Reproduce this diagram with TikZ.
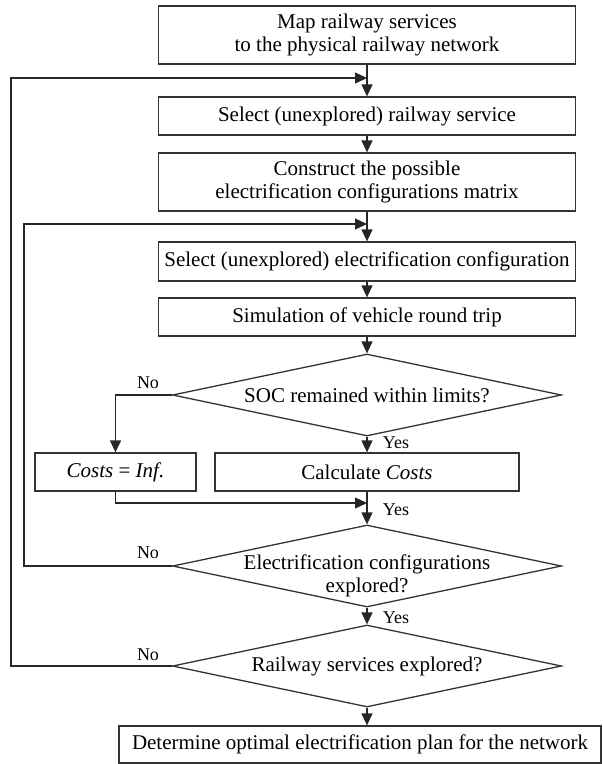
\documentclass[tikz,border=0pt]{standalone}
\usepackage{fontspec}
\setmainfont{Liberation Serif}
\usetikzlibrary{arrows.meta,shapes.geometric,positioning}

\begin{document}
\begin{tikzpicture}[
    x=1pt, y=-1pt,
    font=\fontsize{21}{23}\selectfont,
    >={Triangle[length=12pt,width=11pt]},
    every node/.style={align=center},
    proc/.style={draw=black!80, line width=1.3pt, fill=white,
      minimum width=417pt, minimum height=38pt, inner sep=2pt},
    dec/.style={draw=black!80, line width=1.3pt, diamond, inner sep=0pt,
      minimum width=389pt, minimum height=82pt},
    lbl/.style={font=\fontsize{18}{20}\selectfont},
    arr/.style={->, line width=1.3pt, draw=black!85},
  ]
    \useasboundingbox (0,0) rectangle (603,764);

    % --- process steps ---
    \node[proc, minimum height=58pt] (map) at (367,35) {Map railway services\\to the physical railway network};
    \node[proc] (sel) at (367,116) {Select (unexplored) railway service};
    \node[proc, minimum height=58pt] (cons) at (367,182) {Construct the possible\\electrification configurations matrix};
    \node[proc, minimum height=39pt] (selc) at (367,261.5) {Select (unexplored) electrification configuration};
    \node[proc] (sim) at (367,317) {Simulation of vehicle round trip};

    % --- decisions ---
    \node[dec, label={[name=soct]center:SOC remained within limits?}] (soc) at (367,395) {};
    \node[proc, minimum width=161pt] (inf) at (115.5,472) {\textit{Costs} = \textit{Inf.}};
    \node[proc, minimum width=304pt] (calc) at (367,472) {Calculate \textit{Costs}};
    \node[dec, label={[name=expct, yshift=-10pt]center:Electrification configurations\\explored?}] (expc) at (367,566) {};
    \node[dec, label={[name=expst]center:Railway services explored?}] (exps) at (367,666) {};

    % --- result ---
    \node[proc, minimum width=482pt, minimum height=37pt] (plan) at (360,744.5) {Determine optimal electrification plan for the network};

    % --- junctions ---
    \coordinate (j1) at (367,78);
    \coordinate (j2) at (367,224);
    \coordinate (j3) at (367,503);

    % --- main chain ---
    \draw[arr] (map) -- (sel);
    \draw[arr] (sel) -- (cons);
    \draw[arr] (cons) -- (selc);
    \draw[arr] (selc) -- (sim);
    \draw[arr] (sim) -- (soc);
    \draw[arr] (soc) -- (calc);
    \draw[arr] (soc.west) -| (inf.north);
    \draw[arr] (inf.south) |- (j3);
    \draw[arr] (calc) -- (expc);
    \draw[arr] (expc) -- (exps);
    \draw[arr] (exps.south) -- (exps.south |- plan.north);

    % --- loops back ---
    \draw[arr] (expc.west) -- ++(-148,0) |- (j2);
    \draw[arr] (exps.west) -- ++(-161,0) |- (j1);

    % --- branch labels ---
    \node[lbl] (no1) at (148,383) {No};
    \node[lbl] (yes1) at (396,443) {Yes};
    \node[lbl] (yes2) at (396,510) {Yes};
    \node[lbl] (no2) at (148,553) {No};
    \node[lbl] (yes3) at (396,618) {Yes};
    \node[lbl] (no3) at (148,655) {No};
  \end{tikzpicture}
\end{document}
